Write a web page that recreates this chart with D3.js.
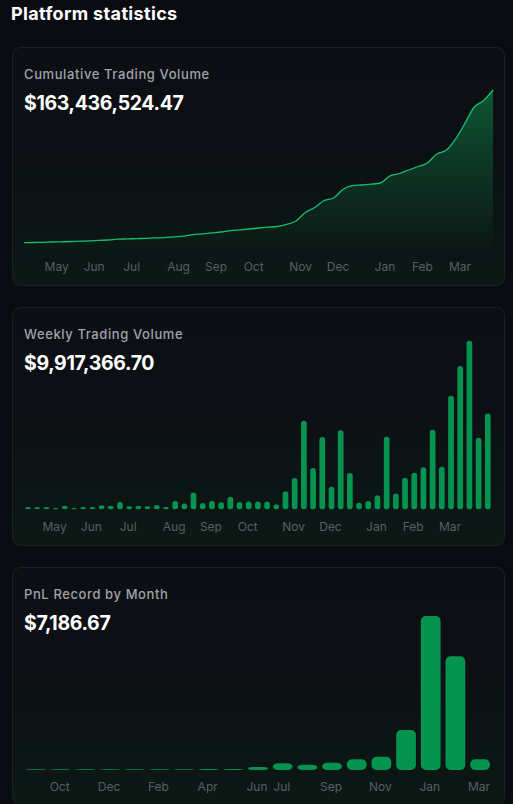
<!DOCTYPE html>
<html>
<head>
<meta charset="utf-8">
<script src="https://cdn.jsdelivr.net/npm/d3@7"></script>
<style>
  html, body { margin: 0; padding: 0; background: #0a0b10; }
  svg { display: block; }
  text { font-family: Inter, "Noto Sans", sans-serif; }
</style>
</head>
<body>
<svg id="chart" width="513" height="804"></svg>
<script>
// ---------- DATA ----------
const pageTitle = "Platform statistics";

const cumTitle = "Cumulative Trading Volume";
const cumHeadline = "$163,436,524.47";
const weekTitle = "Weekly Trading Volume";
const weekHeadline = "$9,917,366.70";
const pnlTitle = "PnL Record by Month";
const pnlHeadline = "$7,186.67";

// week start dates (Sundays)
const weeks = [
  "2023-04-16","2023-04-23","2023-04-30",
  "2023-05-07","2023-05-14","2023-05-21","2023-05-28",
  "2023-06-04","2023-06-11","2023-06-18","2023-06-25",
  "2023-07-02","2023-07-09","2023-07-16","2023-07-23","2023-07-30",
  "2023-08-06","2023-08-13","2023-08-20","2023-08-27",
  "2023-09-03","2023-09-10","2023-09-17","2023-09-24",
  "2023-10-01","2023-10-08","2023-10-15","2023-10-22","2023-10-29",
  "2023-11-05","2023-11-12","2023-11-19","2023-11-26",
  "2023-12-03","2023-12-10","2023-12-17","2023-12-24","2023-12-31",
  "2024-01-07","2024-01-14","2024-01-21","2024-01-28",
  "2024-02-04","2024-02-11","2024-02-18","2024-02-25",
  "2024-03-03","2024-03-10","2024-03-17","2024-03-24","2024-03-31"
];
const weekTicks = ["2023-05-07","2023-06-04","2023-07-02","2023-08-06","2023-09-03","2023-10-01",
  "2023-11-05","2023-12-03","2024-01-07","2024-02-04","2024-03-03"];

// cumulative volume, millions USD
const cumulative = [
  7.46, 7.66, 7.87, 8.17, 8.38, 8.68, 8.99, 9.30, 9.81, 10.21,
  11.03, 11.34, 11.64, 11.95, 12.36, 12.67, 13.48, 14.10, 15.73, 16.45,
  17.47, 18.39, 19.82, 20.63, 21.45, 22.47, 23.29, 24.00, 26.05, 29.62,
  38.31, 43.41, 50.56, 53.12, 61.80, 65.68, 66.40, 67.21, 68.44, 75.59,
  78.14, 81.72, 85.29, 88.87, 98.06, 101.84, 113.38, 129.21, 146.07, 152.71,
  163.44
];

// weekly volume, millions USD
const weekly = [
  0.24, 0.24, 0.24, 0.14, 0.38, 0.14, 0.24, 0.24, 0.41, 0.38,
  0.76, 0.31, 0.38, 0.31, 0.45, 0.24, 0.86, 0.59, 1.73, 0.65,
  0.86, 0.73, 1.31, 0.76, 0.80, 0.80, 0.80, 0.52, 1.87, 3.24,
  9.19, 4.28, 7.49, 2.35, 8.19, 3.76, 0.69, 0.86, 1.45, 7.53,
  1.63, 3.28, 3.80, 4.35, 8.26, 4.42, 11.78, 14.85, 17.48, 7.43,
  9.92
];

// monthly PnL, thousands USD
const months = ["2022-09","2022-10","2022-11","2022-12","2023-01","2023-02","2023-03","2023-04",
  "2023-05","2023-06","2023-07","2023-08","2023-09","2023-10","2023-11","2023-12",
  "2024-01","2024-02","2024-03"];
const monthTicks = ["2022-10","2022-12","2023-02","2023-04","2023-06","2023-07","2023-09",
  "2023-11","2024-01","2024-03"];
const pnl = [0.45, 0.45, 0.45, 0.45, 0.45, 0.45, 0.45, 0.7, 0.7, 2.0,
  4.5, 3.6, 4.9, 7.2, 8.9, 26.9, 103.7, 76.6, 7.19];

// ---------- DRAW ----------
const svg = d3.select("#chart");
const green = "#05944f";
const monthFmt = d3.timeFormat("%b");
const parseDay = d3.timeParse("%Y-%m-%d");
const parseMonth = d3.timeParse("%Y-%m");

const defs = svg.append("defs");
const cardGrad = defs.append("linearGradient").attr("id", "cardGrad")
  .attr("x1", 0).attr("y1", 0).attr("x2", 0).attr("y2", 1);
cardGrad.append("stop").attr("offset", "0%").attr("stop-color", "#0c0e13");
cardGrad.append("stop").attr("offset", "45%").attr("stop-color", "#0c1014");
cardGrad.append("stop").attr("offset", "100%").attr("stop-color", "#0b1915");

const areaGrad = defs.append("linearGradient").attr("id", "areaGrad")
  .attr("gradientUnits", "userSpaceOnUse")
  .attr("x1", 0).attr("y1", 90).attr("x2", 0).attr("y2", 252);
areaGrad.append("stop").attr("offset", "0%").attr("stop-color", "#0d5a35").attr("stop-opacity", 0.95);
areaGrad.append("stop").attr("offset", "100%").attr("stop-color", "#0d5a35").attr("stop-opacity", 0.0);

svg.append("text")
  .attr("x", 11).attr("y", 19.5)
  .attr("fill", "#ffffff").attr("font-size", 18).attr("font-weight", 700)
  .attr("letter-spacing", 0.35)
  .text(pageTitle);

function card(top, title, headline) {
  const g = svg.append("g");
  g.append("rect").attr("x", 12.5).attr("y", top + 0.5).attr("width", 492).attr("height", 238)
    .attr("rx", 8).attr("fill", "url(#cardGrad)").attr("stroke", "#1a2023").attr("stroke-width", 1);
  g.append("text").attr("x", 24).attr("y", top + 31.5)
    .attr("fill", "#a0a3a9").attr("font-size", 13).attr("font-weight", 500)
    .attr("letter-spacing", 0.6).text(title);
  g.append("text").attr("x", 24).attr("y", top + 62.5)
    .attr("fill", "#ffffff").attr("font-size", 19.5).attr("font-weight", 700)
    .attr("letter-spacing", -0.35).text(headline);
  return g;
}

function styleAxis(g, dx) {
  g.select(".domain").remove();
  g.selectAll(".tick line").remove();
  g.selectAll(".tick text")
    .attr("fill", "#5a5e65").attr("font-size", 12)
    .attr("font-family", "Inter, 'Noto Sans', sans-serif")
    .attr("dx", dx || 0).attr("dy", 0).attr("y", 0);
}

// ---- Card 1: cumulative area ----
const c1 = card(47, cumTitle, cumHeadline);
const x1 = d3.scalePoint().domain(weeks).range([24, 493]);
const y1 = d3.scaleLinear().domain([0, d3.max(cumulative)]).range([250, 90]);
const area = d3.area()
  .x((d, i) => x1(weeks[i])).y0(252).y1(d => y1(d))
  .curve(d3.curveMonotoneX);
const line = d3.line()
  .x((d, i) => x1(weeks[i])).y(d => y1(d))
  .curve(d3.curveMonotoneX);
c1.append("path").datum(cumulative).attr("d", area).attr("fill", "url(#areaGrad)");
c1.append("path").datum(cumulative).attr("d", line)
  .attr("fill", "none").attr("stroke", "#15c06a").attr("stroke-width", 1.3);
const ax1 = c1.append("g").attr("transform", "translate(0,271)")
  .call(d3.axisBottom(x1).tickValues(weekTicks).tickFormat(d => monthFmt(parseDay(d))));
styleAxis(ax1, 4);

// ---- Card 2: weekly bars ----
const c2 = card(307, weekTitle, weekHeadline);
const x2 = d3.scaleBand().domain(weeks).range([23.4, 492.4]).paddingInner(0.38).paddingOuter(0.19);
const y2 = d3.scaleLinear().domain([0, d3.max(weekly)]).range([509.3, 340.7]);
c2.selectAll("rect.bar").data(weekly).join("rect").attr("class", "bar")
  .attr("x", (d, i) => x2(weeks[i]))
  .attr("width", x2.bandwidth())
  .attr("y", d => y2(d))
  .attr("height", d => y2(0) - y2(d))
  .attr("rx", x2.bandwidth() / 2)
  .attr("fill", green);
const ax2 = c2.append("g").attr("transform", "translate(0,531)")
  .call(d3.axisBottom(x2).tickValues(weekTicks).tickFormat(d => monthFmt(parseDay(d))));
styleAxis(ax2, -1);

// ---- Card 3: monthly PnL bars ----
const c3 = card(567, pnlTitle, pnlHeadline);
const x3 = d3.scaleBand().domain(months).range([23.67, 492.4]).paddingInner(0.2).paddingOuter(0.1);
const y3 = d3.scaleLinear().domain([0, d3.max(pnl)]).range([770, 616]);
c3.selectAll("rect.bar").data(pnl).join("rect").attr("class", "bar")
  .attr("x", (d, i) => x3(months[i]))
  .attr("width", x3.bandwidth())
  .attr("y", d => y3(d))
  .attr("height", d => y3(0) - y3(d))
  .attr("rx", 5)
  .attr("fill", green);
const ax3 = c3.append("g").attr("transform", "translate(0,791)")
  .call(d3.axisBottom(x3).tickValues(monthTicks).tickFormat(d => monthFmt(parseMonth(d))));
styleAxis(ax3, -1);
</script>
</body>
</html>
